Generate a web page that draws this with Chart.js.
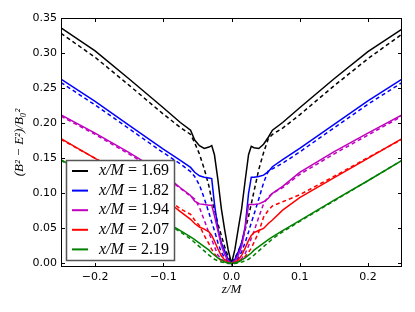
<!DOCTYPE html>
<html>
<head>
<meta charset="utf-8">
<script src="https://cdn.jsdelivr.net/npm/chart.js@4.4.0/dist/chart.umd.min.js"></script>
<style>
  body { margin: 0; background: #fff; }
  canvas { display: block; }
</style>
</head>
<body>
<canvas id="chart" width="415" height="312"></canvas>
<script>
// z/M positions shared by every curve
const zVals = [-0.25, -0.2, -0.15, -0.1, -0.075, -0.06, -0.054, -0.047, -0.04, -0.033, -0.029, -0.025, -0.02, -0.015, -0.01, -0.005, 0,
               0.005, 0.01, 0.015, 0.02, 0.025, 0.029, 0.033, 0.04, 0.047, 0.054, 0.06, 0.075, 0.1, 0.15, 0.2, 0.25];

const massRatios = ["1.69", "1.82", "1.94", "2.07", "2.19"];
const xTicks = [-0.2, -0.1, 0, 0.1, 0.2];
const yTicks = [0, 0.05, 0.1, 0.15, 0.2, 0.25, 0.3, 0.35];

// solid curves
const solid169 = [0.336, 0.303, 0.263, 0.222, 0.201, 0.19, 0.176, 0.168, 0.164, 0.166, 0.168, 0.155, 0.12, 0.079, 0.048, 0.02, 0,
                  0.02, 0.05, 0.079, 0.118, 0.155, 0.167, 0.165, 0.164, 0.17, 0.18, 0.19, 0.201, 0.222, 0.263, 0.302, 0.334];
const solid182 = [0.263, 0.231, 0.197, 0.163, 0.147, 0.137, 0.13, 0.125, 0.123, 0.122, 0.121, 0.085, 0.05, 0.03, 0.018, 0.006, 0,
                  0.006, 0.017, 0.03, 0.052, 0.1, 0.123, 0.123, 0.124, 0.126, 0.131, 0.138, 0.148, 0.164, 0.198, 0.232, 0.263];
const solid194 = [0.212, 0.186, 0.158, 0.128, 0.108, 0.097, 0.089, 0.085, 0.084, 0.083, 0.083, 0.068, 0.047, 0.026, 0.013, 0.004, 0,
                  0.004, 0.012, 0.025, 0.05, 0.084, 0.084, 0.084, 0.085, 0.088, 0.093, 0.1, 0.11, 0.13, 0.159, 0.186, 0.212];
const solid207 = [0.178, 0.15, 0.122, 0.093, 0.074, 0.063, 0.057, 0.052, 0.049, 0.045, 0.04, 0.032, 0.021, 0.011, 0.005, 0.002, 0,
                  0.002, 0.005, 0.012, 0.022, 0.033, 0.04, 0.044, 0.047, 0.05, 0.057, 0.062, 0.076, 0.094, 0.122, 0.15, 0.178];
const solid219 = [0.148, 0.119, 0.09, 0.061, 0.047, 0.038, 0.034, 0.029, 0.024, 0.019, 0.015, 0.012, 0.008, 0.005, 0.002, 0.001, 0,
                  0.001, 0.002, 0.005, 0.008, 0.012, 0.015, 0.019, 0.024, 0.029, 0.034, 0.038, 0.047, 0.061, 0.09, 0.118, 0.147];

// dashed curves
const dashed169 = [0.328, 0.294, 0.254, 0.213, 0.194, 0.184, 0.172, 0.156, 0.135, 0.11, 0.09, 0.077, 0.057, 0.04, 0.024, 0.01, 0,
                   0.008, 0.017, 0.03, 0.048, 0.067, 0.085, 0.103, 0.134, 0.158, 0.178, 0.184, 0.193, 0.212, 0.253, 0.292, 0.327];
const dashed182 = [0.258, 0.226, 0.192, 0.158, 0.142, 0.131, 0.124, 0.112, 0.093, 0.072, 0.059, 0.047, 0.03, 0.016, 0.008, 0.003, 0,
                   0.003, 0.008, 0.017, 0.03, 0.045, 0.058, 0.07, 0.092, 0.115, 0.132, 0.135, 0.143, 0.159, 0.193, 0.227, 0.258];
const dashed194 = [0.21, 0.184, 0.156, 0.126, 0.107, 0.096, 0.092, 0.08, 0.062, 0.043, 0.034, 0.024, 0.012, 0.006, 0.003, 0.001, 0,
                   0.001, 0.003, 0.007, 0.014, 0.025, 0.036, 0.046, 0.066, 0.085, 0.095, 0.1, 0.108, 0.127, 0.156, 0.183, 0.21];
const dashed207 = [0.177, 0.15, 0.123, 0.096, 0.078, 0.07, 0.062, 0.054, 0.04, 0.028, 0.02, 0.014, 0.008, 0.004, 0.002, 0.001, 0,
                   0.001, 0.003, 0.006, 0.01, 0.016, 0.022, 0.03, 0.045, 0.066, 0.076, 0.082, 0.088, 0.098, 0.124, 0.151, 0.177];
const dashed219 = [0.147, 0.118, 0.089, 0.06, 0.045, 0.035, 0.03, 0.024, 0.018, 0.012, 0.009, 0.006, 0.004, 0.002, 0.001, 0, 0,
                   0, 0.001, 0.002, 0.004, 0.006, 0.009, 0.012, 0.018, 0.024, 0.03, 0.035, 0.045, 0.06, 0.089, 0.118, 0.147];

const solidSeries = [solid169, solid182, solid194, solid207, solid219];
const dashedSeries = [dashed169, dashed182, dashed194, dashed207, dashed219];
const colors = ["#000000", "#0000ff", "#bf00bf", "#ff0000", "#008000"];

function toPoints(vals) {
    return zVals.map((z, i) => ({ x: z, y: vals[i] }));
}

const datasets = [];
massRatios.forEach((m, i) => {
    datasets.push({
        label: m,
        data: toPoints(solidSeries[i]),
        borderColor: colors[i],
        borderWidth: 1.5,
        order: 20 - 2 * i,
    });
    datasets.push({
        label: m + " dashed",
        data: toPoints(dashedSeries[i]),
        borderColor: colors[i],
        borderWidth: 1.5,
        borderDash: [4, 3],
        order: 19 - 2 * i,
    });
});

function line(ctx, x1, y1, x2, y2) {
    ctx.beginPath();
    ctx.moveTo(x1, y1);
    ctx.lineTo(x2, y2);
    ctx.stroke();
}

// inward ticks, frame, axis labels and the legend box (matplotlib style)
const decorPlugin = {
    id: "decor",
    afterDatasetsDraw(chart) {
        const { ctx, chartArea: a, scales } = chart;
        ctx.save();
        ctx.strokeStyle = "#000";
        ctx.lineWidth = 1;
        xTicks.forEach(v => {
            const px = Math.round(scales.x.getPixelForValue(v)) + 0.5;
            line(ctx, px, a.bottom, px, a.bottom - 4);
            line(ctx, px, a.top, px, a.top + 4);
        });
        yTicks.forEach(v => {
            const py = Math.round(scales.y.getPixelForValue(v)) + 0.5;
            line(ctx, a.left, py, a.left + 4, py);
            line(ctx, a.right, py, a.right - 4, py);
        });
        ctx.strokeRect(a.left + 0.5, a.top + 0.5, a.right - a.left - 1, a.bottom - a.top - 1);

        // axis titles
        ctx.fillStyle = "#000";
        ctx.font = "italic 13px 'Liberation Serif'";
        ctx.textAlign = "center";
        ctx.textBaseline = "middle";
        ctx.fillText("z/M", (a.left + a.right) / 2, 290);
        ctx.save();
        ctx.translate(20, (a.top + a.bottom) / 2);
        ctx.rotate(-Math.PI / 2);
        ctx.fillText("(B\u00b2 \u2212 E\u00b2)/B\u2080\u00b2", 0, 0);
        ctx.restore();

        // legend
        const bx = a.left + 5, by = a.bottom - 107, bw = 109, bh = 101;
        ctx.fillStyle = "#fff";
        ctx.fillRect(bx, by, bw, bh);
        ctx.strokeStyle = "#555";
        ctx.lineWidth = 1.5;
        ctx.strokeRect(bx + 0.5, by + 0.5, bw - 1, bh - 1);
        massRatios.forEach((m, i) => {
            const ry = by + 11 + i * 19.6;
            ctx.strokeStyle = colors[i];
            ctx.lineWidth = 2;
            line(ctx, bx + 6, ry, bx + 22, ry);
            ctx.fillStyle = "#000";
            ctx.textAlign = "left";
            ctx.font = "italic 16px 'Liberation Serif'";
            ctx.fillText("x/M", bx + 33, ry);
            const w = ctx.measureText("x/M").width;
            ctx.font = "16px 'Liberation Serif'";
            ctx.fillText(" = " + m, bx + 33 + w, ry);
        });
        ctx.restore();
    }
};

new Chart(document.getElementById("chart"), {
    type: "scatter",
    data: { datasets },
    options: {
        responsive: false,
        animation: false,
        devicePixelRatio: 1,
        showLine: true,
        elements: { point: { radius: 0 }, line: { tension: 0 } },
        layout: { padding: { top: 18, right: 13, left: 0, bottom: 0 } },
        plugins: { legend: { display: false }, tooltip: { enabled: false } },
        scales: {
            x: {
                type: "linear",
                min: -0.25,
                max: 0.25,
                grid: { display: false, drawTicks: false },
                border: { display: false },
                afterBuildTicks: scale => { scale.ticks = xTicks.map(v => ({ value: v })); },
                afterFit: scale => { scale.height = 45; },
                ticks: {
                    padding: 4,
                    color: "#000",
                    font: { family: "DejaVu Sans", size: 11 },
                    callback: v => (v === 0 ? "0.0" : v.toFixed(1).replace("-", "\u2212")),
                },
            },
            y: {
                type: "linear",
                min: -0.005,
                max: 0.35,
                grid: { display: false, drawTicks: false },
                border: { display: false },
                afterBuildTicks: scale => { scale.ticks = yTicks.map(v => ({ value: v })); },
                afterFit: scale => { scale.width = 61; },
                ticks: {
                    padding: 4,
                    color: "#000",
                    font: { family: "DejaVu Sans", size: 11 },
                    callback: v => v.toFixed(2),
                },
            },
        },
    },
    plugins: [decorPlugin],
});
</script>
</body>
</html>
